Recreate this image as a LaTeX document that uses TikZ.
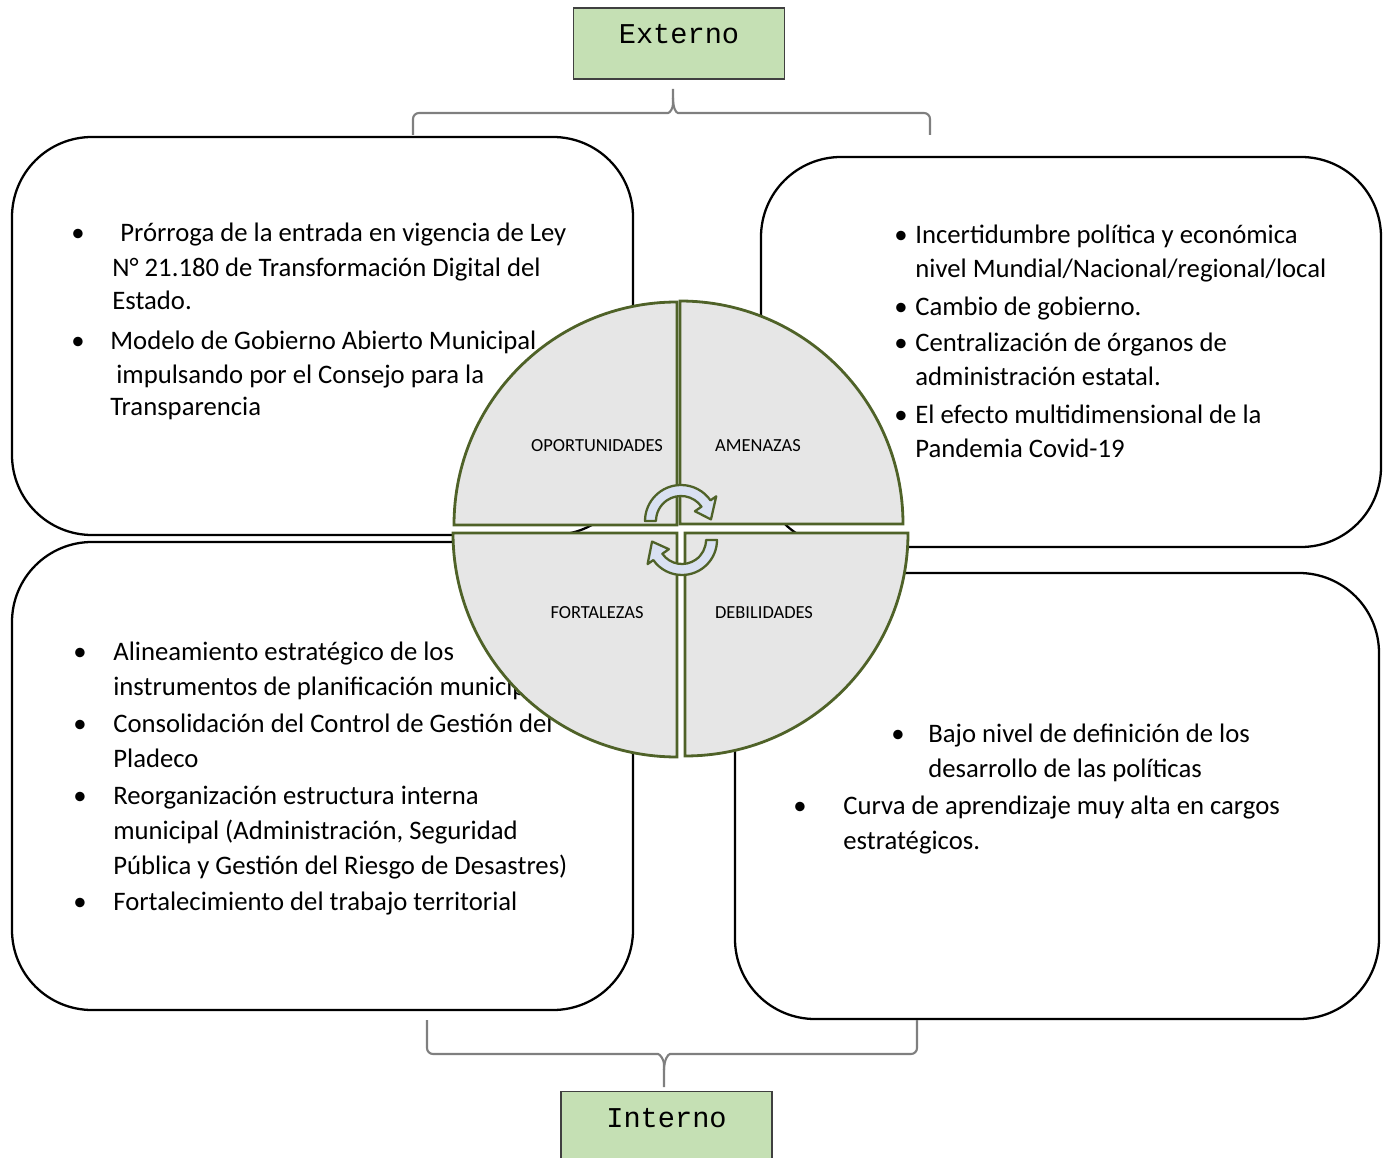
\documentclass[tikz,border=0pt]{standalone}
\usepackage{fontspec}
\setmainfont{Carlito}
\setmonofont{Liberation Mono}
\usepackage{tikz}
\definecolor{tagfill}{HTML}{C5E0B4}
\definecolor{bracegray}{HTML}{7F7F7F}
\definecolor{quadfill}{HTML}{E6E6E6}
\definecolor{quadline}{HTML}{4F6228}
\definecolor{spinfill}{HTML}{D9E1F2}

\begin{document}
\begin{tikzpicture}[
x=0.02cm, y=-0.02cm,
box/.style={draw=black, line width=1.3pt, rounded corners=1.6cm},
tag/.style={draw=black!75, fill=tagfill, line width=0.7pt, minimum width=4.22cm, minimum height=1.42cm, text height=0.3cm, text depth=0.3cm, inner sep=0, font=\ttfamily\fontsize{16.3}{16.3}\selectfont},
brace/.style={draw=bracegray, line width=1.2pt, rounded corners=0.12cm},
txt/.style={anchor=base west, inner sep=0, font=\fontsize{15.2}{19.9}\selectfont},
bul/.style={anchor=base, inner sep=0, font=\fontsize{15.2}{19.9}\selectfont},
quad/.style={draw=quadline, fill=quadfill, line width=1.6pt},
qlab/.style={anchor=base, inner sep=0, font=\fontsize{10.5}{12}\selectfont},
spin/.style={draw=quadline, fill=spinfill, line width=1.3pt, line join=round}
]
\useasboundingbox (0,0) rectangle (1389,1158);

% the four boxes
\draw[box] (12,137) rectangle (633,535);
\draw[box] (761,157) rectangle (1381,547);
\draw[box] (12,542) rectangle (633,1010);
\draw[box] (735,573) rectangle (1379,1019);

% external / internal tags and braces
\node[tag] (ext) at (679,43.5) {Externo};
\node[tag] (int) at (666.5,1127) {Interno};
\draw[brace] (413,135) -- (413,113) -- (662,113) .. controls (670,113) and (673,108) .. (673,98) -- (673,89);
\draw[brace] (673,98) .. controls (673,108) and (676,113) .. (684,113) -- (930,113) -- (930,135);
\draw[brace] (427,1020) -- (427,1054) -- (652,1054) .. controls (660,1054) and (664,1060) .. (664,1070) -- (664,1087);
\draw[brace] (664,1070) .. controls (664,1060) and (668,1054) .. (676,1054) -- (917,1054) -- (917,1020);

% oportunidades
\node[bul] (bo1) at (78,242) {•};
\node[txt] (op1) at (120,242) {Prórroga de la entrada en vigencia de Ley};
\node[txt] (op2) at (112,277) {N° 21.180 de Transformación Digital del};
\node[txt] (op3) at (112,310) {Estado.};
\node[bul] (bo2) at (78,350) {•};
\node[txt] (op4) at (110,350) {Modelo de Gobierno Abierto Municipal};
\node[txt] (op5) at (116,384) {impulsando por el Consejo para la};
\node[txt] (op6) at (110,416) {Transparencia};

% amenazas
\node[bul] (ba1) at (901,244) {•};
\node[txt] (am1) at (915,244) {Incertidumbre política y económica};
\node[txt] (am2) at (915,278) {nivel Mundial/Nacional/regional/local};
\node[bul] (ba2) at (901,316) {•};
\node[txt] (am3) at (915,316) {Cambio de gobierno.};
\node[bul] (ba3) at (901,352) {•};
\node[txt] (am4) at (915,352) {Centralización de órganos de};
\node[txt] (am5) at (915,386) {administración estatal.};
\node[bul] (ba4) at (901,424) {•};
\node[txt] (am6) at (915,424) {El efecto multidimensional de la};
\node[txt] (am7) at (915,458) {Pandemia Covid-19};

% fortalezas
\node[bul] (bf1) at (80,660) {•};
\node[txt] (fo1) at (113,660) {Alineamiento estratégico de los};
\node[txt] (fo2) at (113,695) {instrumentos de planificación municipal};
\node[bul] (bf2) at (80,732) {•};
\node[txt] (fo3) at (113,732) {Consolidación del Control de Gestión del};
\node[txt] (fo4) at (113,767) {Pladeco};
\node[bul] (bf3) at (80,804) {•};
\node[txt] (fo5) at (113,804) {Reorganización estructura interna};
\node[txt] (fo6) at (113,839) {municipal (Administración, Seguridad};
\node[txt] (fo7) at (113,874) {Pública y Gestión del Riesgo de Desastres)};
\node[bul] (bf4) at (80,910) {•};
\node[txt] (fo8) at (113,910) {Fortalecimiento del trabajo territorial};

% debilidades
\node[bul] (bd1) at (898,742) {•};
\node[txt] (de1) at (928,742) {Bajo nivel de definición de los};
\node[txt] (de2) at (928,777) {desarrollo de las políticas};
\node[bul] (bd2) at (800,814) {•};
\node[txt] (de3) at (843,814) {Curva de aprendizaje muy alta en cargos};
\node[txt] (de4) at (843,849) {estratégicos.};

% FODA circle
\draw[quad] (677,525) -- (454,525) arc[start angle=180, end angle=270, radius=223] -- cycle;
\draw[quad] (680,524) -- (680,301) arc[start angle=270, end angle=360, radius=223] -- cycle;
\draw[quad] (677,533) -- (677,757) arc[start angle=90, end angle=180, radius=224] -- cycle;
\draw[quad] (685,533) -- (908,533) arc[start angle=0, end angle=90, radius=223] -- cycle;
\node[qlab] (qo) at (597,452) {OPORTUNIDADES};
\node[qlab] (qa) at (758,452) {AMENAZAS};
\node[qlab] (qf) at (597,618) {FORTALEZAS};
\node[qlab] (qd) at (764,618) {DEBILIDADES};

% cycle arrows
\draw[spin, shift={(681,521)}] (180:36) arc[start angle=180, end angle=325, radius=36] -- (325:43) -- (357:30) -- (325:17) -- (325:25) arc[start angle=325, end angle=180, radius=25] -- cycle;
\draw[spin, shift={(682,540)}] (0:35) arc[start angle=0, end angle=145, radius=35] -- (145:42) -- (177:30) -- (145:16) -- (145:24) arc[start angle=145, end angle=0, radius=24] -- cycle;
\end{tikzpicture}
\end{document}
